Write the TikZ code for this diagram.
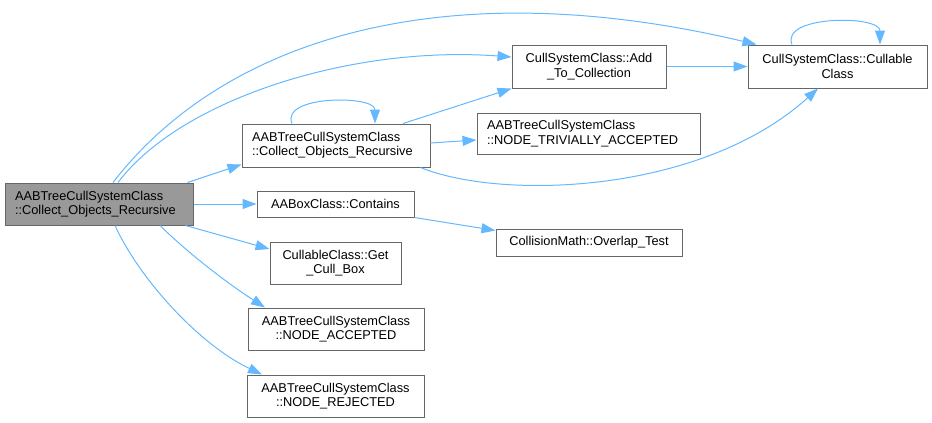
\documentclass[tikz,border=0pt]{standalone}
\usepackage{fontspec}
\setmainfont{Liberation Sans}
\usetikzlibrary{arrows.meta}
\definecolor{edgeblue}{HTML}{63B8FF}
\definecolor{boxgray}{HTML}{666666}
\definecolor{mainfill}{HTML}{999999}

\begin{document}
\begin{tikzpicture}[x=1pt,y=-1pt,
  box/.style={draw=boxgray,fill=white,line width=1pt,inner xsep=10pt,inner ysep=0pt,
    font=\fontsize{12.8}{14.3}\selectfont},
  call/.style={draw=edgeblue,line width=1pt,-{Triangle[length=14pt,width=10pt]}}]
\useasboundingbox (0,0) rectangle (932,423);

\node[box,fill=mainfill,text width=168pt,minimum height=42pt,align=left] (collect) at (99,204) {AABTreeCullSystemClass\\::Collect\_Objects\_Recursive};
\node[box,text width=168pt,minimum height=43pt,align=left] (acr) at (336,145.5) {AABTreeCullSystemClass\\::Collect\_Objects\_Recursive};
\node[box,text width=203pt,minimum height=41pt,align=left] (trivial) at (588.5,133.5) {AABTreeCullSystemClass\\::NODE\_TRIVIALLY\_ACCEPTED};
\node[box,text width=134pt,minimum height=43pt,align=center] (addto) at (589,66.5) {CullSystemClass::Add\\\_To\_Collection};
\node[box,text width=159pt,minimum height=43pt,align=center] (cullable) at (837.5,66.5) {CullSystemClass::Cullable\\Class};
\node[box,text width=137pt,minimum height=26pt,align=center] (contains) at (335.5,204) {AABoxClass::Contains};
\node[box,text width=166pt,minimum height=27pt,align=center] (overlap) at (589,242.5) {CollisionMath::Overlap\_Test};
\node[box,text width=111pt,minimum height=42pt,align=center] (getbox) at (335.5,263) {CullableClass::Get\\\_Cull\_Box};
\node[box,text width=156pt,minimum height=42pt,align=center] (accepted) at (336,329) {AABTreeCullSystemClass\\::NODE\_ACCEPTED};
\node[box,text width=157pt,minimum height=42pt,align=center] (rejected) at (335.5,396) {AABTreeCullSystemClass\\::NODE\_REJECTED};

\draw[call] ([xshift=14pt]collect.north) .. controls (223,40) and (442,-30) .. ([xshift=9pt]cullable.north west);
\draw[call] ([xshift=19pt]collect.north) .. controls (180,100) and (350,45) .. ([yshift=9.5pt]addto.west);
\draw[call] ([xshift=-6pt]collect.north east) -- ([yshift=3pt]acr.south west);
\draw[call] (collect.east) -- (contains.west);
\draw[call] ([xshift=-8pt]collect.south east) -- ([yshift=14pt]getbox.west);
\draw[call] ([xshift=61pt]collect.south) .. controls (190,255) and (230,285) .. ([xshift=-71pt]accepted.north);
\draw[call] ([xshift=16pt]collect.south) .. controls (140,280) and (200,345) .. ([xshift=-73.5pt]rejected.north);

\draw[call] ([xshift=-44pt]acr.north) .. controls (280,95) and (375,95) .. ([xshift=39pt]acr.north);
\draw[call] ([xshift=67pt]acr.north) -- (addto.south west);
\draw[call] ([yshift=2.5pt]acr.east) -- ([yshift=-6.5pt]trivial.west);
\draw[call] ([xshift=-10pt]acr.south east) .. controls (500,200) and (700,195) .. ([xshift=-19.5pt]cullable.south);
\draw[call] (addto.east) -- (cullable.west);
\draw[call] ([xshift=-45.5pt]cullable.north) .. controls (780,15) and (880,15) .. ([xshift=42.5pt]cullable.north);
\draw[call] (contains.south east) -- ([yshift=-2pt]overlap.north west);
\end{tikzpicture}
\end{document}
